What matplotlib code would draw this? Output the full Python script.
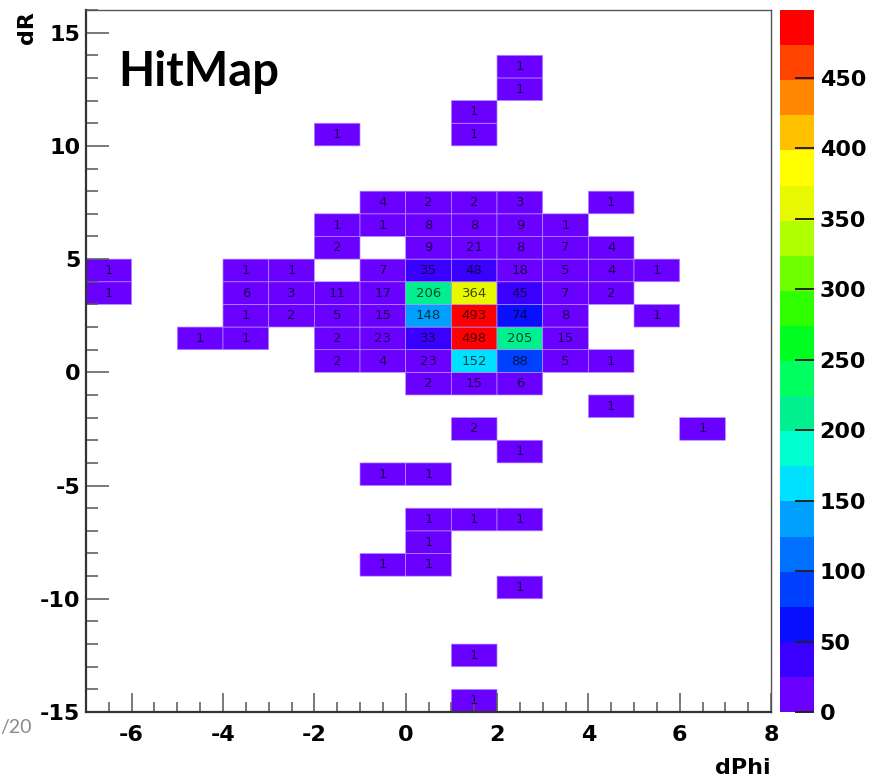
import numpy as np
import matplotlib
matplotlib.use("Agg")
import matplotlib.pyplot as plt
from matplotlib.colors import ListedColormap, BoundaryNorm

# filled bins: lower edge in dPhi, lower edge in dR, entries
cell_dphi = [2, 2, 1, -2, 1,
             -1, 0, 1, 2, 4,
             -2, -1, 0, 1, 2, 3,
             -2, 0, 1, 2, 3, 4,
             -7, -4, -3, -1, 0, 1, 2, 3, 4, 5,
             -7, -4, -3, -2, -1, 0, 1, 2, 3, 4,
             -4, -3, -2, -1, 0, 1, 2, 3, 5,
             -5, -4, -2, -1, 0, 1, 2, 3,
             -2, -1, 0, 1, 2, 3, 4,
             0, 1, 2,
             4,
             1, 6,
             2,
             -1, 0,
             0, 1, 2,
             0,
             -1, 0,
             2,
             1,
             1]
cell_dr = [13, 12, 11, 10, 10,
           7, 7, 7, 7, 7,
           6, 6, 6, 6, 6, 6,
           5, 5, 5, 5, 5, 5,
           4, 4, 4, 4, 4, 4, 4, 4, 4, 4,
           3, 3, 3, 3, 3, 3, 3, 3, 3, 3,
           2, 2, 2, 2, 2, 2, 2, 2, 2,
           1, 1, 1, 1, 1, 1, 1, 1,
           0, 0, 0, 0, 0, 0, 0,
           -1, -1, -1,
           -2,
           -3, -3,
           -4,
           -5, -5,
           -7, -7, -7,
           -8,
           -9, -9,
           -10,
           -13,
           -15]
cell_counts = [1, 1, 1, 1, 1,
               4, 2, 2, 3, 1,
               1, 1, 8, 8, 9, 1,
               2, 9, 21, 8, 7, 4,
               1, 1, 1, 7, 35, 48, 18, 5, 4, 1,
               1, 6, 3, 11, 17, 206, 364, 45, 7, 2,
               1, 2, 5, 15, 148, 493, 74, 8, 1,
               1, 1, 2, 23, 33, 498, 205, 15,
               2, 4, 23, 152, 88, 5, 1,
               2, 15, 6,
               1,
               2, 1,
               1,
               1, 1,
               1, 1, 1,
               1,
               1, 1,
               1,
               1,
               1]

dphi_edges = np.arange(-7, 9)
dr_edges = np.arange(-15, 17)

# palette with 20 contour levels, violet -> red
palette = ['#6a00ff', '#3a00ff', '#0a10ff', '#0040ff', '#0070ff',
           '#00a0ff', '#00e0ff', '#00ffd0', '#00f090', '#00ff60',
           '#00ff20', '#30ff00', '#70ff00', '#b0ff00', '#e8f800',
           '#ffff00', '#ffc000', '#ff8800', '#ff4400', '#ff0000']

H, xe, ye = np.histogram2d(np.array(cell_dphi) + 0.5, np.array(cell_dr) + 0.5,
                           bins=[dphi_edges, dr_edges], weights=cell_counts)
H = np.ma.masked_equal(H.T, 0)
zmax = H.max()

cmap = ListedColormap(palette)
norm = BoundaryNorm(np.linspace(0, zmax, len(palette) + 1), cmap.N)

fig = plt.figure(figsize=(8.73, 7.82), dpi=100)
ax = fig.add_axes([0.0985, 0.0895, 0.7847, 0.8977])
cax = fig.add_axes([0.8935, 0.0895, 0.039, 0.8977])

# pcolor skips the empty (masked) bins entirely
mesh = ax.pcolor(xe, ye, H, cmap=cmap, norm=norm,
                 edgecolors='#b48cff', linewidth=0.5)

xc = 0.5 * (xe[:-1] + xe[1:])
yc = 0.5 * (ye[:-1] + ye[1:])
for iy in range(H.shape[0]):
    for ix in range(H.shape[1]):
        v = H[iy, ix]
        if v is np.ma.masked:
            continue
        ax.text(xc[ix], yc[iy], '%d' % v, ha='center', va='center',
                fontsize=9.5, color='black', alpha=0.7)

ax.set_xlim(-7, 8)
ax.set_ylim(-15, 16)
ax.set_xticks(np.arange(-6, 9, 2))
ax.set_xticks(np.arange(-7, 8.01, 0.5), minor=True)
ax.set_yticks(np.arange(-15, 16, 5))
ax.set_yticks(np.arange(-15, 17, 1), minor=True)

tick_font = dict(family='DejaVu Sans', weight='bold', size=16)
ax.set_xticklabels(['%d' % t for t in np.arange(-6, 9, 2)], fontdict=tick_font)
ax.set_yticklabels(['%d' % t for t in np.arange(-15, 16, 5)], fontdict=tick_font)

ax.tick_params(axis='x', which='major', direction='in', length=14, width=1.1,
               color='#555555', pad=9)
ax.tick_params(axis='x', which='minor', direction='in', length=7.5, width=1.1,
               color='#555555')
ax.tick_params(axis='y', which='major', direction='in', length=16.5, width=1.1,
               color='#555555', pad=4)
ax.tick_params(axis='y', which='minor', direction='in', length=8.5, width=1.1,
               color='#555555')

for side in ['left', 'bottom']:
    ax.spines[side].set_linewidth(1.6)
    ax.spines[side].set_color('#333333')
for side in ['top', 'right']:
    ax.spines[side].set_linewidth(1.0)
    ax.spines[side].set_color('#555555')

cb = fig.colorbar(mesh, cax=cax, ticks=np.arange(0, 451, 50))
cb.outline.set_visible(False)
cb.ax.set_yticklabels(['%d' % t for t in np.arange(0, 451, 50)], fontdict=tick_font)
cb.ax.tick_params(direction='in', length=14, width=1.4, color='#222222', pad=4)
cb.ax.minorticks_off()

fig.text(27 / 873, 1 - 28 / 782, 'dR', rotation=90, ha='center', va='center',
         family='DejaVu Sans', weight='bold', size=16)
fig.text(771 / 873, 1 - 768 / 782, 'dPhi', ha='right', va='center',
         family='DejaVu Sans', weight='bold', size=16)
fig.text(118 / 873, 1 - 72 / 782, 'HitMap', ha='left', va='center',
         family='Lato', weight='bold', size=34)
fig.text(0, 1 - 728 / 782, '/20', ha='left', va='center',
         family='Lato', size=14, color='#8a8a8a')

fig.savefig('out.png', dpi=100)
